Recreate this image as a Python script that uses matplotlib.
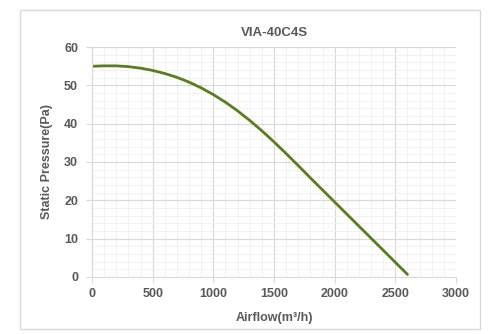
import matplotlib
matplotlib.use("Agg")
import matplotlib.pyplot as plt
from matplotlib.patches import Rectangle
from matplotlib.ticker import MultipleLocator

plt.rcParams['font.family'] = ['Liberation Sans', 'DejaVu Sans']

# fan curve: airflow (m3/h) vs static pressure (Pa)
airflow = [0, 100, 200, 300, 400, 500, 600, 700, 800, 900, 1000, 1100, 1200,
           1300, 1400, 1500, 1600, 1700, 1800, 1900, 2000, 2100, 2200, 2300,
           2400, 2500, 2600]
pressure = [55.0, 55.1, 55.1, 54.9, 54.5, 53.9, 53.1, 52.1, 50.85, 49.35, 47.6,
            45.6, 43.35, 40.85, 38.15, 35.25, 32.2, 29.05, 25.85, 22.7, 19.55,
            16.4, 13.25, 10.1, 6.95, 3.8, 0.65]
x_ticks = [0, 500, 1000, 1500, 2000, 2500, 3000]
y_ticks = [0, 10, 20, 30, 40, 50, 60]

txt = '#595959'

fig = plt.figure(figsize=(5, 3.34), dpi=100)
fig.patches.append(Rectangle((0.04, 0.015), 0.92, 0.955, transform=fig.transFigure,
                             fill=False, edgecolor='#d9d9d9', linewidth=1))
ax = fig.add_axes([0.184, 0.171, 0.728, 0.688])

ax.plot(airflow, pressure, color='#5a7d1e', linewidth=2,
        solid_capstyle='round', solid_joinstyle='round')

ax.set_xlim(0, 3000)
ax.set_ylim(0, 60)
ax.set_xticks(x_ticks)
ax.set_yticks(y_ticks)
ax.xaxis.set_minor_locator(MultipleLocator(100))
ax.yaxis.set_minor_locator(MultipleLocator(2))
ax.grid(which='major', color='#d9d9d9', linewidth=0.8)
ax.grid(which='minor', color='#f0f0f0', linewidth=0.6)
ax.set_axisbelow(True)

for s in ['top', 'right']:
    ax.spines[s].set_visible(False)
for s in ['left', 'bottom']:
    ax.spines[s].set_color('#d9d9d9')
ax.tick_params(which='minor', length=0)
ax.tick_params(which='major', length=4, color='#d9d9d9', direction='out')
ax.tick_params(axis='x', pad=4)
ax.tick_params(axis='y', pad=6)
for lab in ax.get_xticklabels() + ax.get_yticklabels():
    lab.set_fontweight('bold')
    lab.set_color(txt)
    lab.set_fontsize(9)

ax.set_title('VIA-40C4S', fontsize=9.5, fontweight='bold', color=txt, pad=8)
ax.set_xlabel('Airflow(m³/h)', fontsize=9, fontweight='bold', color=txt, labelpad=9)
ax.set_ylabel('Static Pressure(Pa)', fontsize=9, fontweight='bold', color=txt, labelpad=8)

fig.savefig('out.png', dpi=100)
